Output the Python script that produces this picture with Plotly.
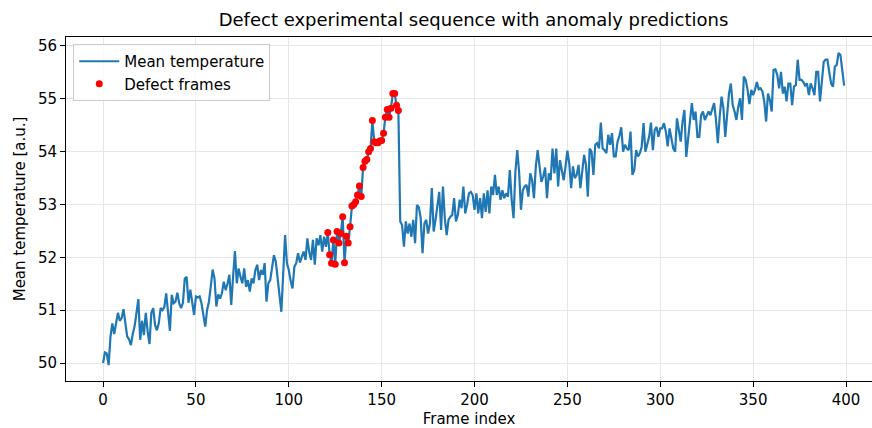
import plotly.graph_objects as go

# ---- data ----
frame_index = list(range(400))

mean_temperature = [
    50.0, 50.2, 50.18, 49.96, 50.5, 50.75, 50.55, 50.8, 50.95, 50.8,
    50.85, 51.02, 50.7, 50.5, 50.45, 50.34, 50.55, 50.7, 50.95, 51.21,
    50.44, 50.8, 50.53, 50.95, 50.6, 50.36, 50.95, 51.04, 50.72, 50.62,
    50.75, 51.04, 51.0, 51.06, 51.32, 50.95, 50.61, 51.29, 51.13, 51.16,
    51.33, 51.13, 51.04, 51.14, 51.6, 51.63, 51.14, 51.39, 51.16, 50.91,
    51.26, 51.24, 51.26, 51.13, 50.91, 50.69, 51.0, 51.16, 51.45, 51.77,
    51.6, 51.07, 51.3, 51.22, 51.32, 51.54, 51.38, 51.5, 51.67, 51.1,
    51.63, 52.12, 51.51, 51.79, 51.63, 51.51, 51.79, 51.44, 51.57, 51.35,
    51.6, 51.51, 51.76, 51.86, 51.57, 51.76, 51.67, 51.89, 51.16, 51.51,
    51.57, 51.8, 52.04, 51.92, 51.57, 51.3, 50.97, 51.7, 52.42, 51.89,
    51.76, 51.55, 51.41, 51.82, 51.89, 52.08, 51.9, 52.01, 52.11, 51.95,
    52.36, 52.1, 51.95, 52.33, 51.86, 52.36, 52.23, 52.42, 52.11, 52.39,
    52.2, 52.47, 52.05, 51.89, 52.33, 51.87, 52.49, 52.27, 52.45, 52.77,
    51.9, 52.4, 52.27, 52.58, 52.97, 53.0, 53.05, 53.18, 53.35, 53.15,
    53.7, 53.82, 53.85, 54.0, 54.06, 54.59, 54.19, 54.17, 54.17, 54.2,
    54.21, 54.35, 54.65, 54.8, 54.65, 54.82, 55.1, 55.1, 54.88, 54.78,
    52.68, 52.61, 52.2, 52.68, 52.45, 52.64, 52.39, 52.71, 52.27, 52.99,
    52.95, 52.75, 52.08, 52.64, 52.71, 52.45, 52.64, 53.31, 52.49, 52.71,
    53.0, 53.24, 52.52, 53.34, 52.74, 52.42, 52.71, 52.77, 52.8, 53.12,
    52.68, 52.8, 53.09, 52.93, 53.34, 52.83, 53.0, 53.21, 53.24, 53.18,
    52.9, 53.21, 52.83, 53.12, 52.74, 53.21, 52.86, 53.27, 52.83, 53.34,
    53.18, 53.56, 53.18, 53.34, 53.09, 53.27, 53.12, 53.21, 53.15, 53.65,
    53.09, 52.74, 53.62, 54.03, 53.62, 52.9, 53.27, 53.34, 53.37, 53.15,
    53.59, 53.46, 53.12, 53.72, 54.03, 53.72, 53.43, 53.53, 53.7, 53.12,
    53.59, 53.46, 54.06, 53.59, 54.06, 53.34, 53.84, 53.65, 53.46, 53.72,
    54.02, 53.78, 53.31, 53.72, 53.5, 53.56, 53.75, 53.31, 53.62, 53.94,
    53.75, 53.15, 54.06, 54.0, 53.56, 54.13, 54.16, 54.06, 54.55, 54.06,
    54.03, 53.97, 54.32, 54.13, 54.35, 53.91, 53.91, 54.19, 54.3, 54.46,
    54.0, 54.13, 54.06, 54.03, 54.38, 53.56, 53.65, 54.03, 53.91, 53.97,
    54.09, 54.54, 54.0, 54.16, 54.28, 54.55, 54.03, 54.41, 54.47, 54.28,
    54.44, 54.44, 54.54, 54.38, 54.1, 54.44, 54.22, 54.06, 54.0, 54.63,
    54.41, 54.19, 54.57, 54.79, 53.9, 54.25, 54.6, 54.92, 54.6, 54.76,
    54.28, 54.28, 54.69, 54.76, 54.6, 54.7, 54.76, 54.69, 54.82, 54.92,
    54.6, 54.16, 54.66, 55.04, 54.82, 54.28, 54.69, 55.1, 55.29, 54.88,
    54.76, 54.6, 54.85, 55.01, 54.6, 55.42, 55.36, 55.17, 54.9, 55.17,
    55.07, 55.17, 55.32, 55.18, 55.2, 55.14, 54.95, 54.57, 55.1, 54.98,
    54.76, 55.55, 55.56, 55.45, 55.2, 55.51, 55.1, 55.23, 54.95, 55.29,
    55.29, 54.88, 55.23, 55.26, 55.74, 55.36, 55.36, 55.32, 55.25, 55.29,
    55.07, 55.29, 55.2, 55.07, 55.51, 55.51, 54.95, 55.39, 55.7, 55.74,
    55.74, 55.5, 55.29, 55.23, 55.61, 55.64, 55.87, 55.83, 55.5, 55.25,
]

defect_frames = [
    121, 122, 123, 124, 125, 126, 127, 128, 129, 130,
    131, 132, 133, 134, 135, 136, 137, 138, 139, 140,
    141, 142, 143, 144, 145, 146, 147, 148, 149, 150,
    151, 152, 153, 154, 155, 156, 157, 158, 159,
]

x_tick_values = [0, 50, 100, 150, 200, 250, 300, 350, 400]
y_tick_values = [50, 51, 52, 53, 54, 55, 56]

defect_values = [mean_temperature[i] for i in defect_frames]

FONT = "DejaVu Sans"

fig = go.Figure()
fig.add_trace(go.Scatter(
    x=frame_index, y=mean_temperature, mode="lines",
    name="Mean temperature",
    line=dict(color="#1f77b4", width=2.2),
))
fig.add_trace(go.Scatter(
    x=defect_frames, y=defect_values, mode="markers",
    name="Defect frames",
    marker=dict(color="red", size=7, line=dict(width=0)),
))

W, H = 872, 428
ml, mr, mt, mb = 66, 0, 37, 47

axis_common = dict(
    showline=True, linecolor="black", linewidth=1,
    ticks="outside", ticklen=5, tickwidth=1, tickcolor="black",
    showgrid=True, gridcolor="#e6e6e6", gridwidth=1,
    zeroline=False,
    tickfont=dict(family=FONT, size=15, color="black"),
)

fig.update_layout(
    width=W, height=H,
    margin=dict(l=ml, r=mr, t=mt, b=mb, pad=0),
    paper_bgcolor="white", plot_bgcolor="white",
    font=dict(family=FONT, size=15, color="black"),
    title=dict(
        text="Defect experimental sequence with anomaly predictions",
        font=dict(family=FONT, size=18, color="black"),
        x=(473.5 - ml) / (W - ml - mr), xref="paper", xanchor="center",
        y=1 - 20 / H, yref="container", yanchor="middle",
    ),
    xaxis=dict(
        **axis_common,
        range=[-19.95, 414.0],
        tickvals=x_tick_values,
        mirror=True,
        title=dict(text="Frame index", font=dict(family=FONT, size=15, color="black"), standoff=9),
    ),
    yaxis=dict(
        **axis_common,
        range=[49.66, 56.17],
        tickvals=y_tick_values,
        title=dict(text="Mean temperature [a.u.]", font=dict(family=FONT, size=15, color="black"), standoff=8),
    ),
    legend=dict(
        x=0.009, y=1 - (44 - mt) / (H - mt - mb),
        xanchor="left", yanchor="top",
        bgcolor="rgba(255,255,255,0.8)", bordercolor="#cccccc", borderwidth=1,
        font=dict(family=FONT, size=15, color="black"),
        itemwidth=40,
        tracegroupgap=0,
    ),
    showlegend=True,
)

fig.write_html("out.html")
